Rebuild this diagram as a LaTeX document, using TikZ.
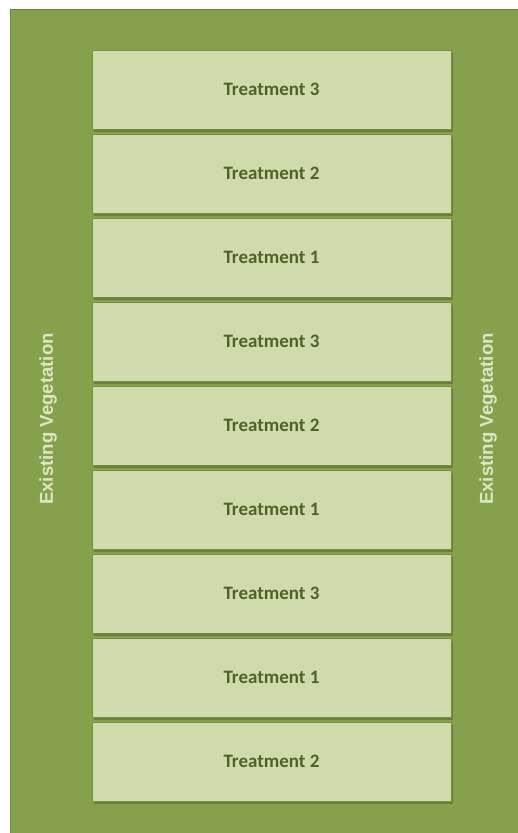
\documentclass[tikz,border=0pt]{standalone}
\usepackage{fontspec}
\setmainfont{Carlito}
\newfontfamily\arialfont{Liberation Sans}
\usetikzlibrary{positioning,shadows}

\definecolor{fieldgreen}{HTML}{86A14C}
\definecolor{fieldedge}{HTML}{6C8838}
\definecolor{plotfill}{HTML}{D0DBAD}
\definecolor{plotedge}{HTML}{768F43}
\definecolor{plottext}{HTML}{4F6228}
\definecolor{vegtext}{HTML}{DCE6C4}
\definecolor{plotshade}{HTML}{5E7532}

\begin{document}
\begin{tikzpicture}[x=1pt, y=1pt, node distance={84pt},
  plot/.style = {draw=plotedge, fill=plotfill, line width=0.8pt,
    minimum width=359pt, minimum height=79pt, inner sep=0pt,
    font=\fontsize{19}{21}\selectfont\bfseries, text=plottext,
    drop shadow={shadow xshift=1.5pt, shadow yshift=-3pt, fill=plotshade, opacity=0.75}},
  veg/.style = {rotate=90, text=vegtext, font=\arialfont\fontsize{18.6}{20}\selectfont\bfseries}]
\useasboundingbox (0,0) rectangle (517,-833);
% field
\fill[white] (0,0) rectangle (517,-833);
\draw[fieldedge, fill=fieldgreen, line width=1pt] (10,-9) rectangle (530,-845);
% plots
\node[plot] (p1) at (271.5,-89.5) {Treatment 3};
\node[plot] (p2) [below of=p1] {Treatment 2};
\node[plot] (p3) [below of=p2] {Treatment 1};
\node[plot] (p4) [below of=p3] {Treatment 3};
\node[plot] (p5) [below of=p4] {Treatment 2};
\node[plot] (p6) [below of=p5] {Treatment 1};
\node[plot] (p7) [below of=p6] {Treatment 3};
\node[plot] (p8) [below of=p7] {Treatment 1};
\node[plot] (p9) [below of=p8] {Treatment 2};
% borders
\node[veg] (vegl) at (48,-419) {Existing Vegetation};
\node[veg] (vegr) at (488,-419) {Existing Vegetation};
\end{tikzpicture}
\end{document}
